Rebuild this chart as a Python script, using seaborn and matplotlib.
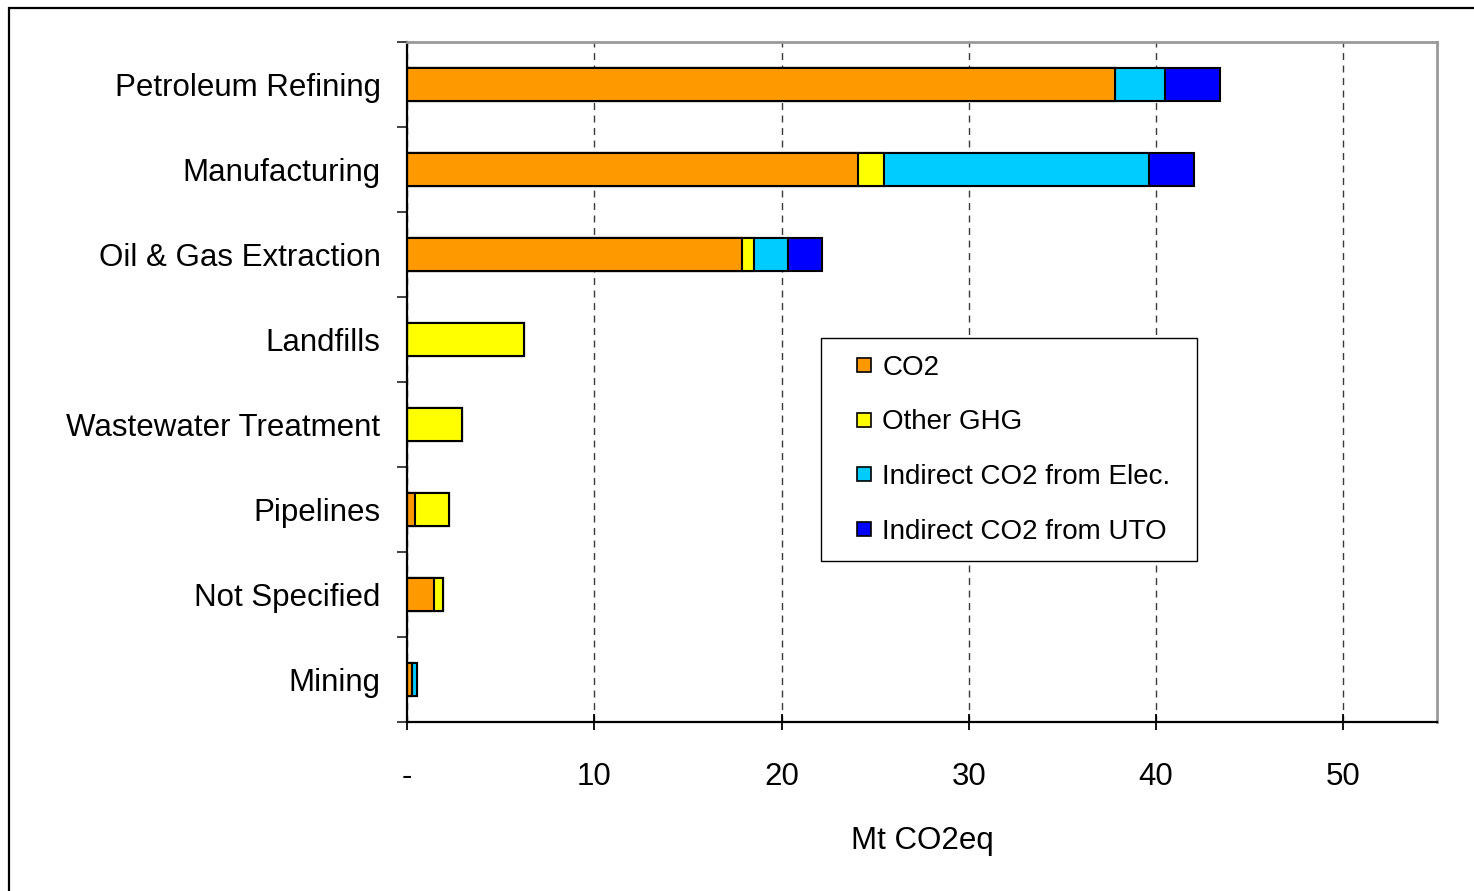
import numpy as np
import pandas as pd
import matplotlib
matplotlib.use("Agg")
import matplotlib.pyplot as plt
from matplotlib.lines import Line2D
from matplotlib.patches import Rectangle
from matplotlib.ticker import FixedLocator
import seaborn as sns

# Emissions by sector (Mt CO2eq), split by source
sectors = ["Petroleum Refining", "Manufacturing", "Oil & Gas Extraction", "Landfills",
           "Wastewater Treatment", "Pipelines", "Not Specified", "Mining"]
co2 = [37.8, 24.1, 17.9, 0.0, 0.0, 0.43, 1.45, 0.28]
other_ghg = [0.0, 1.35, 0.65, 6.25, 2.95, 1.8, 0.45, 0.0]
indirect_elec = [2.7, 14.15, 1.8, 0.0, 0.0, 0.0, 0.0, 0.27]
indirect_uto = [2.9, 2.4, 1.8, 0.0, 0.0, 0.0, 0.0, 0.0]

series_names = ["CO2", "Other GHG", "Indirect CO2 from Elec.", "Indirect CO2 from UTO"]
series_colors = ["#FF9900", "#FFFF00", "#00CCFF", "#0000FF"]
x_ticks = [0, 10, 20, 30, 40, 50]
x_ticklabels = ["-", "10", "20", "30", "40", "50"]

df = pd.DataFrame({"sector": sectors, series_names[0]: co2, series_names[1]: other_ghg,
                   series_names[2]: indirect_elec, series_names[3]: indirect_uto})
cum = df[series_names].cumsum(axis=1)

sns.set_theme(style="white")
plt.rcParams["font.family"] = ["Liberation Sans", "DejaVu Sans"]
plt.rcParams["text.color"] = "black"
plt.rcParams["axes.labelcolor"] = "black"
plt.rcParams["xtick.color"] = "black"
plt.rcParams["ytick.color"] = "black"

fig = plt.figure(figsize=(14.74, 8.91), dpi=100)
ax = fig.add_axes([0.2761, 0.1897, 0.6988, 0.7632])

# Stacked bars: draw cumulative totals from the outermost segment inward
for name, color in reversed(list(zip(series_names, series_colors))):
    sns.barplot(x=cum[name], y=df["sector"], orient="h", color=color, saturation=1,
                width=0.38, edgecolor="black", linewidth=1.5, errorbar=None, ax=ax)

ax.set_xlim(0, 55)
ax.set_ylim(7.5, -0.5)
ax.set_xticks(x_ticks)
ax.set_xticklabels(x_ticklabels)
ax.set_xlabel("Mt CO2eq", fontsize=22.5, labelpad=24)
ax.set_ylabel("")

ax.xaxis.grid(True, color="#3a3a3a", linestyle=(0, (5, 4)), linewidth=1.0)
ax.yaxis.grid(False)
ax.set_axisbelow(True)

ax.tick_params(axis="x", which="major", direction="inout", length=12, width=1.3,
               color="black", labelsize=22.5, pad=23, bottom=True)
ax.tick_params(axis="y", which="major", length=0, labelsize=22.5, pad=19)
ax.yaxis.set_minor_locator(FixedLocator(np.arange(-0.5, 8.0, 1.0)))
ax.tick_params(axis="y", which="minor", direction="out", length=7, width=1.3,
               color="#333333", left=True)

for side in ["left", "bottom"]:
    ax.spines[side].set_color("black")
    ax.spines[side].set_linewidth(1.6)
for side in ["top", "right"]:
    ax.spines[side].set_color("#999999")
    ax.spines[side].set_linewidth(2.0)

handles = [Line2D([0], [0], marker="s", linestyle="none", markersize=10,
                  markerfacecolor=c, markeredgecolor="black", markeredgewidth=1.2)
           for c in series_colors]
leg = ax.legend(handles, series_names, loc="upper left",
                bbox_to_anchor=(0.402, 0.238, 0.365, 0.3265), mode="expand",
                fontsize=20, frameon=True, fancybox=False, framealpha=1,
                borderpad=0.6, labelspacing=1.03, handlelength=1.9,
                handletextpad=-0.3, borderaxespad=0)
leg.get_frame().set_edgecolor("black")
leg.get_frame().set_linewidth(1.0)

# Outer chart border
top = 1 - 7.5 / 891
fig.patches.append(Rectangle((8.5 / 1474, -0.2), 1.2, top + 0.2,
                             transform=fig.transFigure, fill=False,
                             edgecolor="black", linewidth=1.6, clip_on=False))

fig.savefig("out.png", dpi=100)
